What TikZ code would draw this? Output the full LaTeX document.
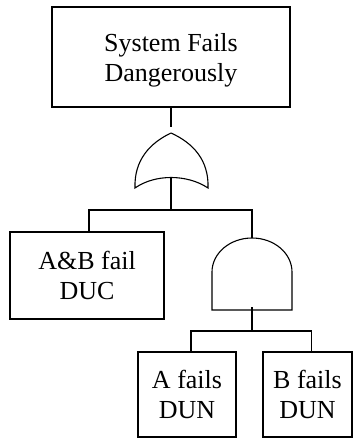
\documentclass[tikz,border=0pt]{standalone}
\usepackage{fontspec}
\setmainfont{Liberation Serif}
\tikzset{
  event node/.style={rectangle,draw,line width=1.6pt,align=center,inner sep=0pt,text depth=0pt,font=\fontsize{26}{30}\selectfont},
  gate/.style={line width=1.1pt},
  link/.style={line width=1.4pt}
}
\begin{document}
\begin{tikzpicture}[x=1pt,y=-1pt]
  \useasboundingbox (0,0) rectangle (354,438);
  \node [event node,minimum width=238pt,minimum height=100pt] (1) at (171,57) {System Fails\\Dangerously};
  \node [event node,minimum width=154pt,minimum height=87pt] (3) at (87,275.5) {A\&B fail\\DUC};
  \node [event node,minimum width=98pt,minimum height=85pt,text depth=-8pt] (5) at (187,394.5) {A fails\\DUN};
  \node [event node,minimum width=89pt,minimum height=85pt,text depth=-8pt] (6) at (307.5,394.5) {B fails\\DUN};
  % or gate
  \coordinate (2) at (171,133);
  \coordinate (2in) at (171,127);
  \coordinate (2out) at (171,178);
  \draw [gate] (2) .. controls (150,143) and (134,160) .. (135,188)
    .. controls (155,174) and (187,174) .. (208,188)
    .. controls (209,160) and (193,143) .. (2);
  % and gate
  \coordinate (4) at (252,238);
  \coordinate (4out) at (252,307);
  \draw [gate] (212,272) -- (212,310) -- (292,310) -- (292,272)
    arc [start angle=0,end angle=-180,x radius=40,y radius=34];
  % connectors
  \coordinate (j1) at (171,210);
  \coordinate (j2) at (252,331);
  \draw [link] (1.south) -- (2in);
  \draw [link] (2out) -- (j1);
  \draw [link] ([xshift=2pt]3.north) |- (j1) -| (4);
  \draw [link] (4out) -- (j2);
  \draw [link] ([xshift=4pt]5.north) |- (j2) -| ([xshift=4pt]6.north);
\end{tikzpicture}
\end{document}
